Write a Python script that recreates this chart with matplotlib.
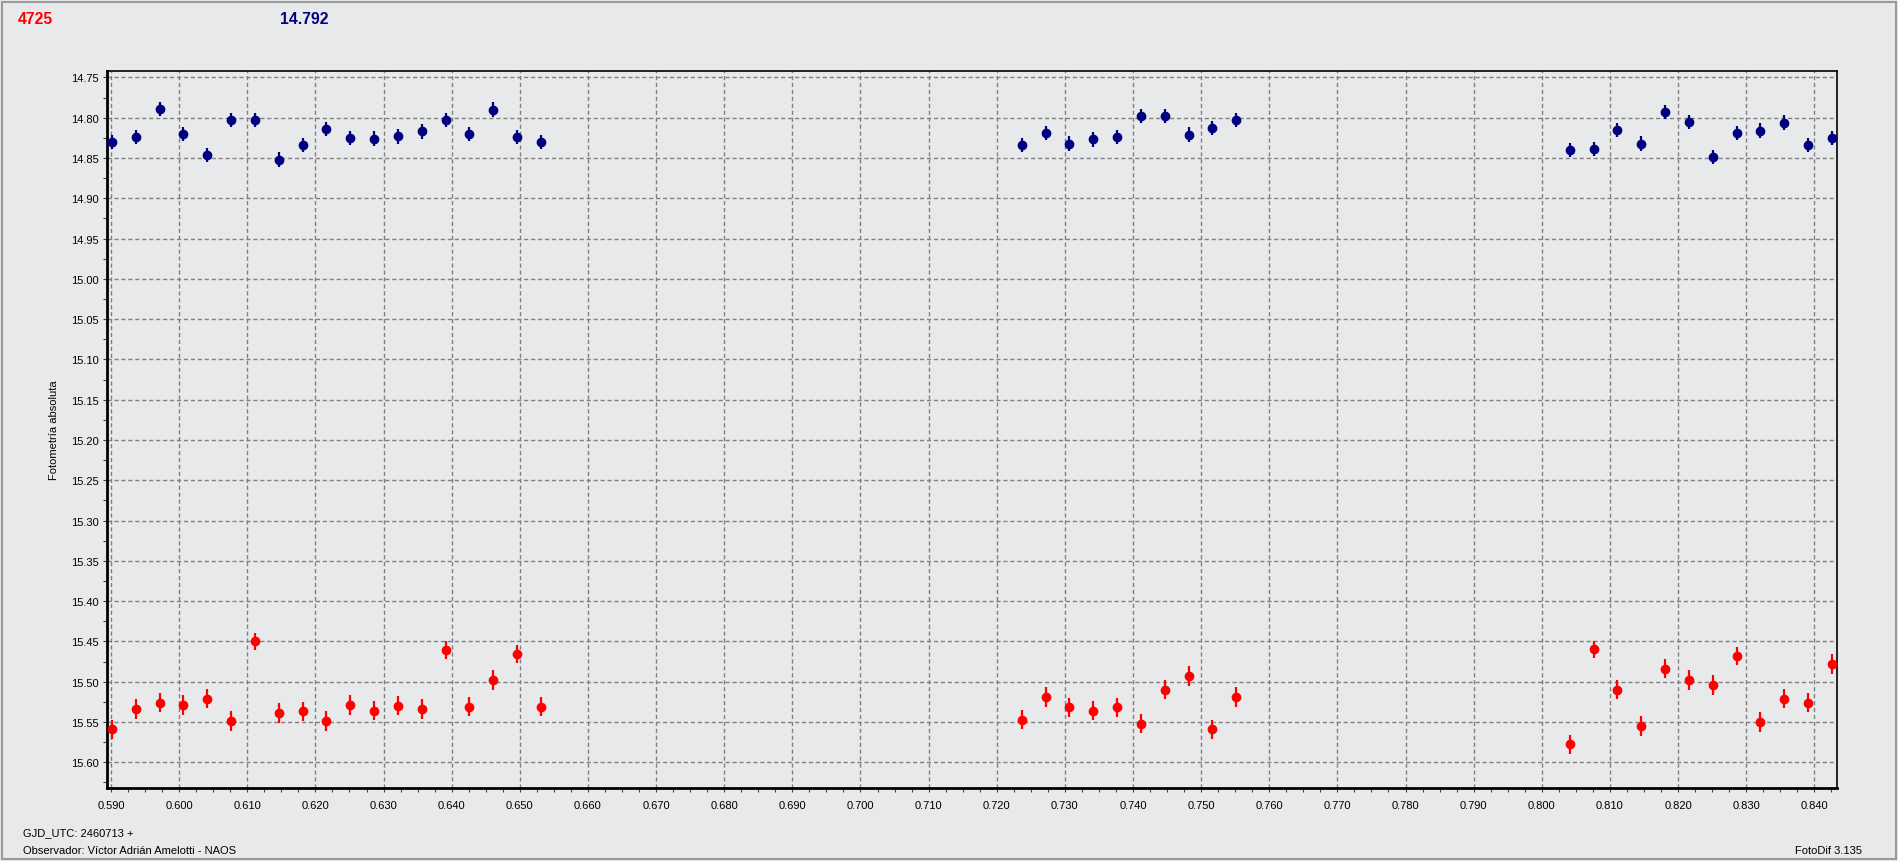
import matplotlib.pyplot as plt
from matplotlib.patches import Rectangle
from matplotlib.ticker import MultipleLocator, FormatStrFormatter

plt.rcParams['font.family'] = ['Liberation Sans', 'DejaVu Sans']

# time (GJD_UTC - 2460713) for each frame
jd = [0.5901, 0.5937, 0.5972, 0.6006, 0.6041, 0.6076, 0.6111, 0.6147, 0.6182,
      0.6216, 0.6251, 0.6286, 0.6321, 0.6356, 0.6392, 0.6425, 0.6461, 0.6496,
      0.6531,
      0.7237, 0.7272, 0.7306, 0.7341, 0.7377, 0.7412, 0.7447, 0.7482, 0.7516,
      0.7551,
      0.8041, 0.8077, 0.8111, 0.8146, 0.8181, 0.8216, 0.8251, 0.8287, 0.8320,
      0.8356, 0.8391, 0.8426]

# asteroid 4725 (red)
mag_4725 = [15.559, 15.534, 15.526, 15.529, 15.521, 15.549, 15.450, 15.539,
            15.537, 15.549, 15.529, 15.536, 15.530, 15.534, 15.461, 15.531,
            15.498, 15.466, 15.531,
            15.547, 15.519, 15.532, 15.536, 15.532, 15.552, 15.510, 15.493,
            15.559, 15.519,
            15.578, 15.460, 15.510, 15.555, 15.484, 15.498, 15.504, 15.468,
            15.550, 15.521, 15.526, 15.478]
err_4725 = [0.012, 0.012, 0.012, 0.012, 0.012, 0.012, 0.011, 0.012, 0.012,
            0.012, 0.012, 0.012, 0.012, 0.012, 0.011, 0.012, 0.012, 0.011,
            0.012,
            0.012, 0.012, 0.012, 0.012, 0.012, 0.012, 0.012, 0.012, 0.012,
            0.012,
            0.012, 0.011, 0.012, 0.012, 0.012, 0.012, 0.012, 0.011, 0.012,
            0.012, 0.012, 0.012]

# comparison star 14.792 (blue)
mag_comp = [14.830, 14.824, 14.789, 14.820, 14.846, 14.803, 14.803, 14.852,
            14.834, 14.814, 14.825, 14.826, 14.823, 14.817, 14.803, 14.820,
            14.790, 14.824, 14.830,
            14.834, 14.819, 14.832, 14.827, 14.824, 14.798, 14.798, 14.821,
            14.813, 14.803,
            14.840, 14.839, 14.815, 14.832, 14.793, 14.805, 14.849, 14.819,
            14.816, 14.806, 14.834, 14.825]
err_comp = [0.009] * len(mag_comp)

bg = '#E8E9EB'
fig = plt.figure(figsize=(18.98, 8.62), dpi=100, facecolor=bg)
ax = fig.add_axes([107 / 1898, 73 / 862, 1730 / 1898, 717 / 862])
ax.set_facecolor(bg)

ax.errorbar(jd, mag_comp, yerr=err_comp, fmt='o', color='#000080', ms=6,
            elinewidth=1.6, capsize=0, zorder=3)
ax.errorbar(jd, mag_4725, yerr=err_4725, fmt='o', color='#FF0000', ms=6,
            elinewidth=1.6, capsize=0, zorder=3)

ax.set_xlim(0.58941, 0.84333)
ax.set_ylim(15.632, 14.742)
ax.xaxis.set_major_locator(MultipleLocator(0.01))
ax.xaxis.set_minor_locator(MultipleLocator(0.0025))
ax.xaxis.set_major_formatter(FormatStrFormatter('%.3f'))
ax.yaxis.set_major_locator(MultipleLocator(0.05))
ax.yaxis.set_minor_locator(MultipleLocator(0.025))
ax.yaxis.set_major_formatter(FormatStrFormatter('%.2f'))
ax.tick_params(which='both', direction='out', length=3, width=0.8,
               labelsize=8, color='#404040')
ax.tick_params(axis='x', pad=6)
ax.tick_params(axis='y', pad=3)
ax.grid(which='major', ls=(0, (3, 2)), color='#808080', lw=1)

ax.spines['left'].set_linewidth(2)
ax.spines['bottom'].set_linewidth(2)
ax.spines['top'].set_linewidth(1.2)
ax.spines['right'].set_linewidth(1.2)

ax.set_ylabel('Fotometría absoluta', fontsize=8)
ax.yaxis.set_label_coords(-0.0278, 0.5)

fig.text(18 / 1898, 1 - 19 / 862, '4725', color='#FF0000', fontsize=11.3,
         fontweight='bold', va='center', ha='left')
fig.text(280 / 1898, 1 - 19 / 862, '14.792', color='#000080', fontsize=11.3,
         fontweight='bold', va='center', ha='left')
fig.text(23 / 1898, 1 - 833 / 862, 'GJD_UTC: 2460713 +', fontsize=8,
         va='center', ha='left')
fig.text(23 / 1898, 1 - 851 / 862, 'Observador: Víctor Adrián Amelotti - NAOS',
         fontsize=8, va='center', ha='left')
fig.text(1862 / 1898, 1 - 851 / 862, 'FotoDif 3.135', fontsize=8,
         va='center', ha='right')

fig.add_artist(Rectangle((1.5 / 1898, 2.5 / 862), 1894 / 1898, 857 / 862,
                         transform=fig.transFigure, fill=False,
                         ec='#9a9a9a', lw=1.5))

fig.savefig('out.png', dpi=100, facecolor=bg)
